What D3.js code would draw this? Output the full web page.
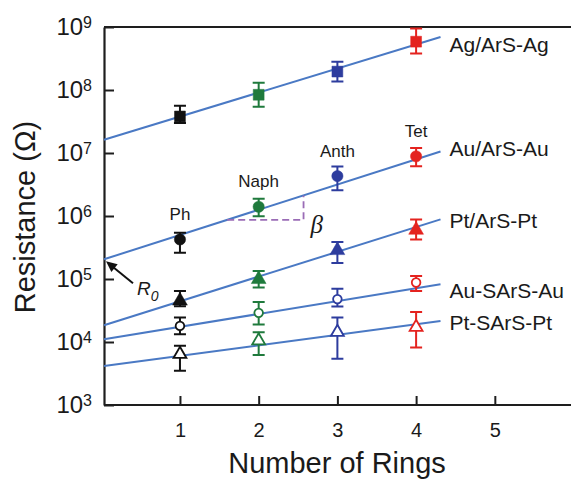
<!DOCTYPE html>
<html>
<head>
<meta charset="utf-8">
<script src="https://cdn.jsdelivr.net/npm/d3@7"></script>
<style>
  html, body { margin: 0; padding: 0; background: #ffffff; }
  svg { display: block; font-family: "Liberation Sans", Arial, Helvetica, sans-serif; }
</style>
</head>
<body>
<svg id="chart" width="571" height="480"></svg>
<script>
// Number of aromatic rings: Ph, Naph, Anth, Tet
const rings = [1, 2, 3, 4];
const ringNames = ["Ph", "Naph", "Anth", "Tet"];
const ringColors = ["#111111", "#1f7a3c", "#2d3c9e", "#e4231f"];

// Junction types
const seriesNames = ["Ag/ArS-Ag", "Au/ArS-Au", "Pt/ArS-Pt", "Au-SArS-Au", "Pt-SArS-Pt"];
const seriesSymbols = ["square", "circle", "triangle", "circle", "triangle"];
const seriesFilled = [true, true, true, false, false];

// Resistance (ohm): centre value, lower and upper error bounds
const agValues = [3.8e7, 8.4e7, 1.96e8, 5.85e8];
const agLow    = [3.0e7, 5.4e7, 1.36e8, 3.8e8];
const agHigh   = [5.6e7, 1.3e8, 2.8e8, 9.5e8];

const auValues = [4.25e5, 1.4e6, 4.3e6, 8.85e6];
const auLow    = [2.6e5, 9.9e5, 2.56e6, 6.15e6];
const auHigh   = [5.4e5, 1.87e6, 6.1e6, 1.2e7];

const ptValues = [4.5e4, 9.9e4, 2.85e5, 6.0e5];
const ptLow    = [3.7e4, 7.3e4, 1.8e5, 4.25e5];
const ptHigh   = [6.45e4, 1.34e5, 3.85e5, 8.8e5];

const auSValues = [1.8e4, 2.9e4, 4.8e4, 8.8e4];
const auSLow    = [1.33e4, 1.9e4, 3.66e4, 6.45e4];
const auSHigh   = [2.45e4, 4.3e4, 7.0e4, 1.12e5];

const ptSValues = [6.4e3, 1.05e4, 1.43e4, 1.72e4];
const ptSLow    = [3.5e3, 6.2e3, 5.4e3, 8.2e3];
const ptSHigh   = [8.7e3, 1.43e4, 2.45e4, 3.0e4];

// Exponential fits R = R0 * 10^(beta * N); beta in decades per ring
const fitR0   = [1.57e7, 1.99e5, 1.79e4, 1.09e4, 4.1e3];
const fitBeta = [0.382, 0.400, 0.393, 0.204, 0.167];

// Axis ticks
const xTicks = [1, 2, 3, 4, 5];
const yTicks = [1e3, 1e4, 1e5, 1e6, 1e7, 1e8, 1e9];

const seriesValues = [agValues, auValues, ptValues, auSValues, ptSValues];
const seriesLow = [agLow, auLow, ptLow, auSLow, ptSLow];
const seriesHigh = [agHigh, auHigh, ptHigh, auSHigh, ptSHigh];

const svg = d3.select("#chart");
const W = 571, H = 480;
const plotLeft = 104, plotTop = 27, plotBottom = 405;

const x = d3.scaleLinear().domain([0.035, 5.955]).range([plotLeft, 570]);
const y = d3.scaleLog().domain([1e3, 1e9]).range([plotBottom, plotTop]);

const fitAt = (i, n) => fitR0[i] * Math.pow(10, fitBeta[i] * n);

const axisColor = "#1e1e1e";
const lineColor = "#4a79c4";

// ---- axes ----
const xAxis = svg.append("g")
  .attr("transform", `translate(0,${plotBottom})`)
  .call(d3.axisBottom(x).tickValues(xTicks).tickSize(-9).tickSizeOuter(0).tickPadding(18).tickFormat(d3.format("d")));
xAxis.select(".domain").attr("stroke", axisColor).attr("stroke-width", 2.2)
  .attr("d", `M${plotLeft},0H${W}`);
xAxis.selectAll(".tick line").attr("stroke", axisColor).attr("stroke-width", 2);
xAxis.selectAll(".tick text").attr("font-size", 20).attr("fill", "#1a1a1a")
  .attr("font-family", "Liberation Sans, Arial, sans-serif");

const yAxis = svg.append("g")
  .attr("transform", `translate(${plotLeft},0)`)
  .call(d3.axisLeft(y).tickValues(yTicks).tickSize(-10).tickSizeOuter(0).tickPadding(12).tickFormat(() => ""));
yAxis.select(".domain").attr("stroke", axisColor).attr("stroke-width", 2.2);
yAxis.selectAll(".tick line").attr("stroke", axisColor).attr("stroke-width", 2);
yAxis.selectAll(".tick text")
  .attr("font-size", 24).attr("fill", "#1a1a1a")
  .attr("font-family", "Liberation Sans, Arial, sans-serif")
  .each(function (d) {
    const t = d3.select(this);
    t.text("10");
    t.append("tspan").attr("font-size", 16).attr("dy", -7).text(Math.round(Math.log10(d)));
  });

// top frame line
svg.append("line")
  .attr("x1", plotLeft).attr("x2", W)
  .attr("y1", plotTop).attr("y2", plotTop)
  .attr("stroke", axisColor).attr("stroke-width", 2.2);

// axis titles
svg.append("text")
  .attr("x", 337).attr("y", 473)
  .attr("text-anchor", "middle")
  .attr("font-size", 29).attr("fill", "#1a1a1a")
  .text("Number of Rings");

svg.append("text")
  .attr("transform", "translate(35,217) rotate(-90)")
  .attr("text-anchor", "middle")
  .attr("font-size", 29).attr("fill", "#1a1a1a")
  .text("Resistance (\u03A9)");

// ---- fit lines ----
const xStart = x.domain()[0], xEnd = 4.31;
const lineGen = d3.line().x(d => x(d[0])).y(d => y(d[1]));
seriesNames.forEach((name, i) => {
  svg.append("path")
    .attr("d", lineGen([[xStart, fitAt(i, xStart)], [xEnd, fitAt(i, xEnd)]]))
    .attr("fill", "none").attr("stroke", lineColor).attr("stroke-width", 2);
});

// slope triangle on the Au/ArS-Au fit
const triA = 1.60, triB = 2.57;
const triPurple = "#9a6cb6";
svg.append("path")
  .attr("d", `M${x(triA)},${y(fitAt(1, triA))}H${x(triB)}V${y(fitAt(1, triB))}`)
  .attr("fill", "none").attr("stroke", triPurple).attr("stroke-width", 1.8)
  .attr("stroke-dasharray", "7,4");
svg.append("text")
  .attr("x", x(triB) + 7).attr("y", y(fitAt(1, triA)) + 13)
  .attr("font-family", "Liberation Serif, Times New Roman, serif")
  .attr("font-style", "italic").attr("font-size", 25).attr("fill", "#1a1a1a")
  .text("\u03B2");

// R0 arrow pointing at the Au/ArS-Au intercept
const tipX = x(xStart) + 2, tipY = y(fitAt(1, xStart)) + 2;
const tailX = tipX + 27, tailY = tipY + 22;
const ang = Math.atan2(tipY - tailY, tipX - tailX);
svg.append("line")
  .attr("x1", tailX).attr("y1", tailY)
  .attr("x2", tipX - 7 * Math.cos(ang)).attr("y2", tipY - 7 * Math.sin(ang))
  .attr("stroke", "#111").attr("stroke-width", 2);
const headL = 11, headW = 5;
const hx = tipX - headL * Math.cos(ang), hy = tipY - headL * Math.sin(ang);
svg.append("path")
  .attr("d", `M${tipX},${tipY}L${hx + headW * Math.sin(ang)},${hy - headW * Math.cos(ang)}L${hx - headW * Math.sin(ang)},${hy + headW * Math.cos(ang)}Z`)
  .attr("fill", "#111");
const r0 = svg.append("text")
  .attr("x", tailX + 4).attr("y", tailY + 12)
  .attr("font-style", "italic").attr("font-size", 19).attr("fill", "#1a1a1a");
r0.append("tspan").text("R");
r0.append("tspan").attr("font-size", 14).attr("dy", 6).text("0");

// ---- error bars and markers ----
const symbolTypes = { square: d3.symbolSquare, circle: d3.symbolCircle, triangle: d3.symbolTriangle };
const symbolSize = { square: 118, circle: 100, triangle: 95 };
const openSize = { circle: 58, triangle: 72 };

seriesNames.forEach((name, i) => {
  const g = svg.append("g");
  rings.forEach((n, j) => {
    const col = ringColors[j];
    const cx = x(n);
    const yLo = y(seriesLow[i][j]), yHi = y(seriesHigh[i][j]);
    g.append("path")
      .attr("d", `M${cx},${yLo}V${yHi}M${cx - 6},${yLo}H${cx + 6}M${cx - 6},${yHi}H${cx + 6}`)
      .attr("fill", "none").attr("stroke", col).attr("stroke-width", 2);
    const sym = seriesSymbols[i];
    const filled = seriesFilled[i];
    const shape = d3.symbol().type(symbolTypes[sym]).size(filled ? symbolSize[sym] : openSize[sym]);
    g.append("path")
      .attr("d", shape())
      .attr("transform", `translate(${cx},${y(seriesValues[i][j])})`)
      .attr("fill", filled ? col : "#ffffff")
      .attr("stroke", col).attr("stroke-width", filled ? 0.5 : 1.8);
  });
});

// molecule names above the Au/ArS-Au points
rings.forEach((n, j) => {
  svg.append("text")
    .attr("x", x(n)).attr("y", y(auValues[j]) - 25)
    .attr("text-anchor", "middle").attr("dominant-baseline", "central")
    .attr("font-size", 17).attr("fill", "#1a1a1a")
    .text(ringNames[j]);
});

// series labels at the end of each fit line
const labelNudge = [8, -3, 1, 6, 1];
seriesNames.forEach((name, i) => {
  svg.append("text")
    .attr("x", x(xEnd) + 9).attr("y", y(fitAt(i, xEnd)) + labelNudge[i])
    .attr("dominant-baseline", "central")
    .attr("font-size", 21).attr("fill", "#1a1a1a")
    .text(name);
});
</script>
</body>
</html>
